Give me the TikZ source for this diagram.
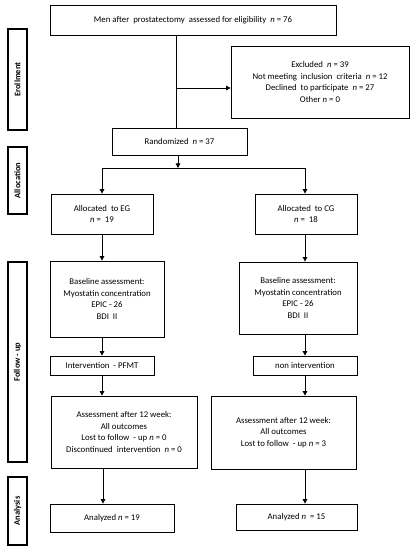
\documentclass[tikz,border=0pt]{standalone}
\usepackage{fontspec}
\setmainfont{Carlito}
\usetikzlibrary{arrows.meta}
\begin{document}
\begin{tikzpicture}[x=1bp,y=-1bp,
  box/.style={draw=black,line width=0.8bp,inner sep=0pt,align=center,
    font=\fontsize{8.8}{11.6}\selectfont},
  side/.style={draw=black,line width=1.8bp,inner sep=0pt},
  sidetext/.style={rotate=90,font=\fontsize{8.5}{10}\selectfont\bfseries},
  line/.style={draw=black,line width=0.8bp},
  arr/.style={line,-{Triangle[length=4.5bp,width=4.5bp]}}]
\useasboundingbox (0,0) rectangle (414,550);
% side labels
\node[side,minimum width=19bp,minimum height=101bp] (s1) at (17.5,79.5) {};
\node[sidetext] (s1t) at (s1.center) {Erollment};
\node[side,minimum width=19bp,minimum height=67bp] (s2) at (17.5,180.5) {};
\node[sidetext] (s2t) at (s2.center) {Allocation};
\node[side,minimum width=19bp,minimum height=200bp] (s3) at (17.5,362) {};
\node[sidetext] (s3t) at (s3.center) {Follow - up};
\node[side,minimum width=19bp,minimum height=68bp] (s4) at (17.5,511) {};
\node[sidetext] (s4t) at (s4.center) {Analysis};
% boxes
\node[box,minimum width=286bp,minimum height=30bp] (top) at (193,20)
  {Men after\ \ prostatectomy\ \ assessed for eligibility\ \ \textit{n} = 76};
\node[box,minimum width=178bp,minimum height=72bp] (excl) at (320,82)
  {Excluded\ \ \textit{n} = 39\\Not meeting\ \ inclusion\ \ criteria\ \ \textit{n} = 12\\Declined\ \ to participate\ \ \textit{n} = 27\\Other \textit{n} = 0};
\node[box,minimum width=135bp,minimum height=27bp] (rand) at (179.5,141.5)
  {Randomized\ \ \textit{n} = 37};
\node[box,minimum width=102bp,minimum height=40bp] (eg) at (102,214)
  {Allocated\ \ to EG\\\textit{n} =\ \ 19};
\node[box,minimum width=102bp,minimum height=40bp] (cg) at (306,214)
  {Allocated\ \ to CG\\\textit{n} =\ \ 18};
\node[box,minimum width=114bp,minimum height=76bp] (beg) at (107,299)
  {Baseline assessment:\\Myostatin concentration\\EPIC - 26\\BDI\ \ II};
\node[box,minimum width=118bp,minimum height=72bp] (bcg) at (298,298)
  {Baseline assessment:\\Myostatin concentration\\EPIC - 26\\BDI\ \ II};
\node[box,minimum width=104bp,minimum height=19bp] (ieg) at (102,365.5)
  {Intervention\ \ - PFMT};
\node[box,minimum width=104bp,minimum height=19bp] (icg) at (305,365.5)
  {non intervention};
\node[box,minimum width=146bp,minimum height=72bp] (aeg) at (124,432)
  {Assessment after 12 week:\\All outcomes\\Lost to follow\ \ - up \textit{n} = 0\\Discontinued\ \ intervention\ \ \textit{n} = 0};
\node[box,minimum width=145bp,minimum height=73bp] (acg) at (283.5,432.5)
  {Assessment after 12 week:\\All outcomes\\Lost to follow\ \ - up \textit{n} = 3};
\node[box,minimum width=124bp,minimum height=28bp] (neg) at (112,518)
  {Analyzed \textit{n} = 19};
\node[box,minimum width=121bp,minimum height=26bp] (ncg) at (296.5,517)
  {Analyzed \textit{n}\ \ = 15};
% connectors
\coordinate (sp1) at (176,88);
\draw[line] (sp1|-top.south) -- (sp1|-rand.north);
\draw[arr] (sp1) -- (excl.west|-sp1);
\coordinate (sp2) at (178,168);
\coordinate (cl) at (102,168);
\coordinate (cr) at (305,168);
\draw[arr] (sp2|-rand.south) -- (sp2);
\draw[line] (cl) -- (cr);
\draw[arr] (cl) -- (cl|-eg.north);
\draw[arr] (cr) -- (cr|-cg.north);
\draw[arr] (cl|-eg.south) -- (cl|-beg.north);
\draw[arr] (cr|-cg.south) -- (cr|-bcg.north);
\draw[arr] (cl|-beg.south) -- (cl|-ieg.north);
\draw[arr] (cr|-bcg.south) -- (cr|-icg.north);
\draw[arr] (cl|-ieg.south) -- (cl|-aeg.north);
\draw[arr] (cr|-icg.south) -- (cr|-acg.north);
\coordinate (cl2) at (103,500);
\draw[arr] (cl2|-aeg.south) -- (cl2|-neg.north);
\draw[arr] (cr|-acg.south) -- (cr|-ncg.north);
\end{tikzpicture}
\end{document}
